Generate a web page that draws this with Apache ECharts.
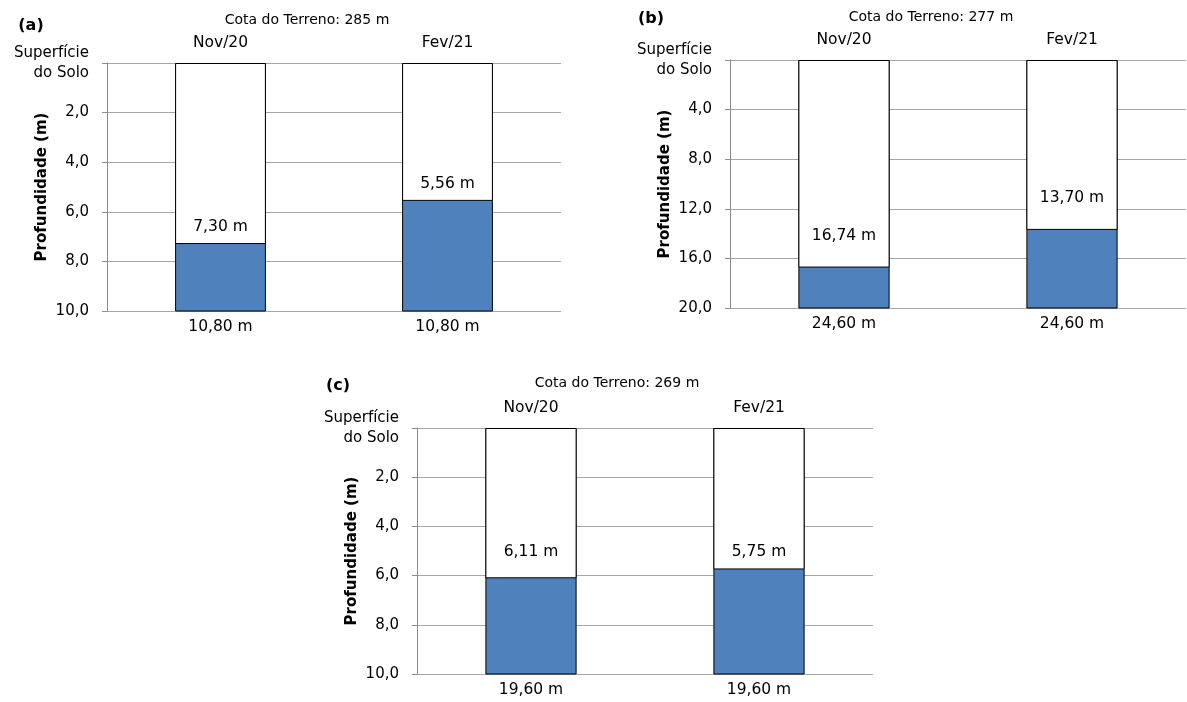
<!DOCTYPE html>
<html><head><meta charset="utf-8">
<script src="https://cdn.jsdelivr.net/npm/echarts@6/dist/echarts.min.js"></script>
<style>html,body{margin:0;padding:0;background:#fff}#c{width:1187px;height:702px}</style>
</head><body><div id="c"></div><script>
// ---- data ----
const categories = ['Nov/20', 'Fev/21'];
const panelLetters = ['(a)', '(b)', '(c)'];
const terrainElevation = [285, 277, 269];
const waterLevelA = [7.30, 5.56];
const waterLevelB = [16.74, 13.70];
const waterLevelC = [6.11, 5.75];
const wellDepthA = [10.80, 10.80];
const wellDepthB = [24.60, 24.60];
const wellDepthC = [19.60, 19.60];
const yMaxes = [10, 20, 10];
const yIntervals = [2, 4, 2];
const surfaceLabel = 'Superfície\ndo Solo';
const yAxisName = 'Profundidade (m)';

// ---- layout / style ----
const FONT = '"DejaVu Sans", Verdana, sans-serif';
const fmt = (v, d) => v.toFixed(d).replace('.', ',');
const layout = [
  {grid:{left:107, top:63, width:454, height:248}, labelDist:[9, 9], letter:[31, 26], title:[307, 20]},
  {grid:{left:730, top:60, width:456, height:248}, labelDist:[24, 24], letter:[651, 19], title:[931, 17]},
  {grid:{left:417, top:428, width:456, height:246}, labelDist:[18, 9], letter:[338, 386], title:[617, 383]}
];
const levels = [waterLevelA, waterLevelB, waterLevelC];
const depths = [wellDepthA, wellDepthB, wellDepthC];

const grid = [], xAxis = [], yAxis = [], series = [], graphic = [];
layout.forEach((p, i) => {
  grid.push(Object.assign({containLabel: false, outerBoundsMode: 'none'}, p.grid));
  xAxis.push({
    type: 'category', gridIndex: i, position: 'top', data: categories,
    axisLine: {show: false}, axisTick: {show: false}, splitLine: {show: false},
    axisLabel: {color: '#000', fontFamily: FONT, fontSize: 15.5, margin: 12}
  });
  xAxis.push({
    type: 'category', gridIndex: i, position: 'bottom', data: categories,
    axisLine: {show: false}, axisTick: {show: false}, splitLine: {show: false},
    axisLabel: {color: '#000', fontFamily: FONT, fontSize: 15.5, margin: 8,
      formatter: (v, idx) => fmt(depths[i][idx], 2) + ' m'}
  });
  yAxis.push({
    type: 'value', gridIndex: i, inverse: true, min: 0, max: yMaxes[i], interval: yIntervals[i],
    axisLine: {show: true, lineStyle: {color: '#8c8c8c', width: 1}},
    axisTick: {show: true, length: 5, lineStyle: {color: '#8c8c8c'}},
    splitLine: {show: true, lineStyle: {color: '#a6a6a6', width: 1}},
    axisLabel: {color: '#000', fontFamily: FONT, fontSize: 15, margin: 18, align: 'right', lineHeight: 20,
      formatter: v => v === 0 ? surfaceLabel : fmt(v, 1)},
    name: yAxisName, nameLocation: 'middle', nameGap: 57, nameMoveOverlap: false,
    nameTextStyle: {color: '#000', fontFamily: FONT, fontSize: 15, fontWeight: 'bold'}
  });
  series.push({
    type: 'bar', xAxisIndex: 2 * i, yAxisIndex: i, data: depths[i], barWidth: '40%', clip: true,
    itemStyle: {color: '#4f81bd', borderColor: '#000', borderWidth: 1}, silent: true, z: 2
  });
  series.push({
    type: 'bar', xAxisIndex: 2 * i, yAxisIndex: i, data: levels[i], barWidth: '40%', barGap: '-100%',
    itemStyle: {color: '#fff', borderColor: '#000', borderWidth: 1}, silent: true, z: 3
  });
  series.push({
    type: 'scatter', xAxisIndex: 2 * i, yAxisIndex: i, symbolSize: 0, silent: true, z: 5,
    itemStyle: {opacity: 1},
    data: levels[i].map((v, k) => ({value: [k, v], label: {distance: p.labelDist[k]}})),
    label: {show: true, position: 'top', color: '#000', fontFamily: FONT, fontSize: 15.5,
      formatter: d => fmt(d.value[1], 2) + ' m'}
  });
  graphic.push({type: 'text', x: p.letter[0], y: p.letter[1],
    style: {text: panelLetters[i], font: 'bold 16px ' + FONT, fill: '#000', textAlign: 'center', textVerticalAlign: 'middle'}});
  graphic.push({type: 'text', x: p.title[0], y: p.title[1],
    style: {text: 'Cota do Terreno: ' + terrainElevation[i] + ' m', font: '14px ' + FONT, fill: '#000', textAlign: 'center', textVerticalAlign: 'middle'}});
});

const chart = echarts.init(document.getElementById('c'));
chart.setOption({animation: false, backgroundColor: '#fff', grid, xAxis, yAxis, series, graphic});
</script></body></html>
